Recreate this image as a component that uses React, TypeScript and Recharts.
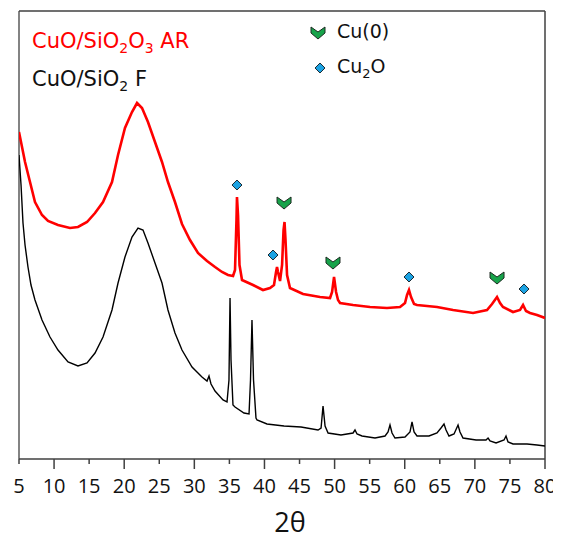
import React from 'react';
import { ComposedChart, Line, Scatter, XAxis, YAxis, ReferenceLine } from 'recharts';

// 2θ (degrees) and intensity (a.u.)
const redTheta = [5.0, 5.86, 6.57, 7.28, 8.28, 9.14, 10.56, 12.27, 13.41, 14.7, 15.84, 16.98, 18.26, 19.12, 20.11, 21.11, 21.83, 22.54, 23.39, 24.39, 25.39, 26.24, 27.24, 28.24, 29.38, 30.52, 31.81, 32.95, 33.95, 34.8, 35.52, 35.8, 36.01, 36.08, 36.23, 36.44, 36.8, 38.37, 39.79, 40.79, 41.36, 41.65, 41.79, 41.93, 42.22, 42.51, 42.72, 42.86, 43.0, 43.22, 43.64, 45.5, 47.92, 49.35, 49.64, 49.92, 50.21, 50.49, 50.78, 52.63, 55.05, 57.47, 59.33, 60.04, 60.33, 60.61, 60.9, 61.33, 61.75, 64.61, 66.89, 69.74, 71.73, 72.45, 73.16, 73.59, 74.01, 75.44, 76.44, 76.87, 77.29, 77.86, 78.86, 80.0];
const redIntensity = [327, 297, 277, 257, 244, 238, 234, 231, 232, 237, 246, 257, 277, 304, 331, 347, 356, 351, 337, 317, 297, 277, 257, 235, 219, 206, 198, 192, 187, 184, 183, 189, 239, 262, 244, 194, 179, 174, 169, 171, 174, 187, 192, 187, 178, 194, 229, 237, 219, 184, 171, 165, 162, 161, 167, 182, 167, 159, 156, 154, 152, 151, 152, 156, 164, 169, 162, 155, 154, 152, 149, 146, 149, 155, 162, 156, 152, 147, 149, 154, 148, 146, 144, 141];

const blackTheta = [5.0, 5.29, 5.57, 5.86, 6.28, 6.71, 7.28, 8.28, 9.42, 10.56, 11.99, 13.41, 14.7, 15.84, 16.98, 18.26, 19.12, 20.11, 21.11, 21.97, 22.68, 23.39, 24.39, 25.39, 26.24, 27.24, 28.24, 29.67, 31.09, 31.81, 32.09, 32.38, 32.95, 34.09, 34.66, 34.94, 35.09, 35.23, 35.51, 35.8, 37.08, 37.8, 38.01, 38.22, 38.44, 38.79, 38.94, 40.36, 42.79, 45.21, 47.64, 48.07, 48.35, 48.64, 49.07, 50.91, 52.63, 52.91, 53.2, 53.91, 55.76, 57.19, 57.62, 57.9, 58.19, 58.61, 60.04, 60.75, 61.04, 61.33, 61.75, 63.46, 64.6, 65.17, 65.6, 65.89, 66.31, 67.03, 67.6, 67.88, 68.31, 70.17, 71.59, 71.88, 72.16, 73.02, 74.16, 74.44, 74.73, 75.44, 77.44, 78.86, 80.0];
const blackIntensity = [304, 274, 236, 214, 192, 174, 159, 139, 122, 109, 97, 93, 96, 106, 122, 149, 176, 202, 222, 231, 229, 216, 196, 176, 149, 126, 109, 92, 82, 78, 83, 75, 68, 59, 57, 79, 161, 99, 54, 52, 46, 45, 79, 139, 79, 41, 39, 35, 33, 32, 29, 31, 53, 33, 26, 24, 26, 29, 25, 23, 21, 23, 27, 34, 26, 21, 22, 27, 37, 27, 23, 23, 26, 31, 35, 29, 23, 25, 34, 27, 21, 19, 19, 21, 18, 16, 19, 23, 17, 15, 15, 14, 13];

// phase markers
const cu2oTheta = [36.08, 41.22, 60.61, 77.01];
const cu2oLevel = [274, 204, 182, 170];
const cuTheta = [42.79, 49.77, 73.16];
const cuLevel = [256, 196, 181];

const xTicks = [5, 10, 15, 20, 25, 30, 35, 40, 45, 50, 55, 60, 65, 70, 75, 80];
const xDomain = [5, 80];
const yDomain = [0, 448];

const redData = redTheta.map((x, i) => ({ x, y: redIntensity[i] }));
const blackData = blackTheta.map((x, i) => ({ x, y: blackIntensity[i] }));
const cu2oData = cu2oTheta.map((x, i) => ({ x, y: cu2oLevel[i] }));
const cuData = cuTheta.map((x, i) => ({ x, y: cuLevel[i] }));

const AXIS = '#404040';

const Diamond = (props: any) => {
  const { cx, cy } = props;
  return (
    <polygon
      points={`${cx},${cy - 5} ${cx + 5},${cy} ${cx},${cy + 5} ${cx - 5},${cy}`}
      fill="#1ca3e3"
      stroke="#1a2a33"
      strokeWidth={1}
    />
  );
};

const Chevron = (props: any) => {
  const { cx, cy } = props;
  return (
    <polygon
      points={`${cx - 7},${cy - 6} ${cx},${cy - 1} ${cx + 7},${cy - 6} ${cx + 7},${cy} ${cx},${cy + 6} ${cx - 7},${cy}`}
      fill="#17a34a"
      stroke="#1d2b22"
      strokeWidth={1}
      strokeLinejoin="miter"
    />
  );
};

const XTick = (props: any) => {
  const { x, y, payload } = props;
  const major = payload.value % 10 === 0;
  return (
    <g>
      <line x1={x} x2={x} y1={y} y2={y + (major ? 10 : 5)} stroke={AXIS} strokeWidth={1.5} />
      <text x={x} y={y + 34} textAnchor="middle" fontFamily="Open Sans" fontSize={20} fill="#111">
        {payload.value}
      </text>
    </g>
  );
};

export default function App() {
  return (
    <div style={{ position: 'relative', width: 553, height: 531 }}>
      <ComposedChart width={553} height={531} margin={{ top: 3, right: 16, left: 11, bottom: 0 }}>
        <XAxis
          xAxisId="b"
          dataKey="x"
          type="number"
          domain={xDomain}
          ticks={xTicks}
          interval={0}
          allowDataOverflow
          height={80}
          tickSize={0}
          tickMargin={0}
          tickLine={false}
          tick={<XTick />}
          axisLine={false}
        />
        <YAxis
          yAxisId="l"
          type="number"
          domain={yDomain}
          width={0}
          tick={false}
          tickLine={false}
          allowDataOverflow
          axisLine={false}
        />
        <ReferenceLine xAxisId="b" yAxisId="l" x={xDomain[0]} stroke="#5a5a5a" strokeWidth={1.5} ifOverflow="visible" />
        <ReferenceLine xAxisId="b" yAxisId="l" x={xDomain[1]} stroke={AXIS} strokeWidth={1.5} ifOverflow="visible" />
        <ReferenceLine xAxisId="b" yAxisId="l" y={yDomain[1]} stroke={AXIS} strokeWidth={1.5} ifOverflow="visible" />
        <ReferenceLine xAxisId="b" yAxisId="l" y={yDomain[0]} stroke={AXIS} strokeWidth={1.5} ifOverflow="visible" />
        <Line
          xAxisId="b"
          yAxisId="l"
          data={blackData}
          dataKey="y"
          type="linear"
          stroke="#000000"
          strokeWidth={1.4}
          dot={false}
          isAnimationActive={false}
        />
        <Line
          xAxisId="b"
          yAxisId="l"
          data={redData}
          dataKey="y"
          type="linear"
          stroke="#ff0000"
          strokeWidth={2.6}
          dot={false}
          isAnimationActive={false}
        />
        <Scatter xAxisId="b" yAxisId="l" data={cu2oData} dataKey="y" shape={<Diamond />} isAnimationActive={false} />
        <Scatter xAxisId="b" yAxisId="l" data={cuData} dataKey="y" shape={<Chevron />} isAnimationActive={false} />
      </ComposedChart>
      <svg
        width={553}
        height={531}
        style={{ position: 'absolute', left: 0, top: 0, pointerEvents: 'none' }}
      >
        <text x={24} y={40} fontFamily="DejaVu Sans" fontSize={21} fill="#ff0000">
          CuO/SiO<tspan fontSize={14} dy={5}>2</tspan>
          <tspan dy={-5}>O</tspan>
          <tspan fontSize={14} dy={5}>3</tspan>
          <tspan dy={-5}> AR</tspan>
        </text>
        <text x={24} y={78} fontFamily="DejaVu Sans" fontSize={21} fill="#111">
          CuO/SiO<tspan fontSize={14} dy={5}>2</tspan>
          <tspan dy={-5}> F</tspan>
        </text>
        <Chevron cx={310} cy={25} />
        <text x={329} y={30} fontFamily="DejaVu Sans" fontSize={19} fill="#111">Cu(0)</text>
        <Diamond cx={312} cy={60} />
        <text x={329} y={65} fontFamily="DejaVu Sans" fontSize={19} fill="#111">
          Cu<tspan fontSize={13} dy={5}>2</tspan>
          <tspan dy={-5}>O</tspan>
        </text>
        <text x={282} y={524} textAnchor="middle" fontFamily="Open Sans" fontSize={27} fill="#111">2θ</text>
      </svg>
    </div>
  );
}
